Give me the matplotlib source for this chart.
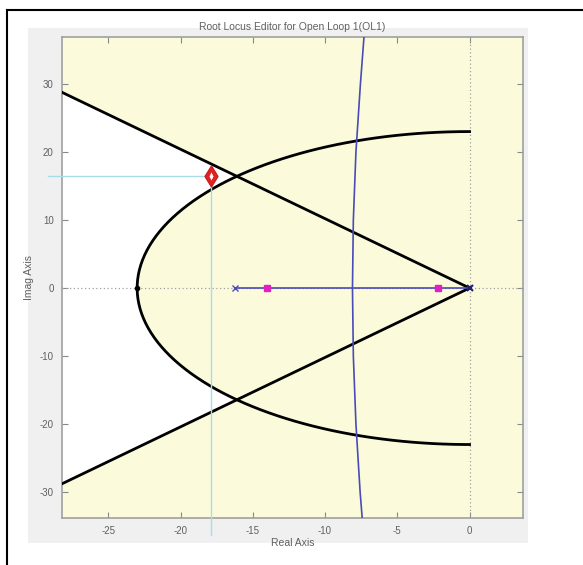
import numpy as np
import matplotlib.pyplot as plt
from matplotlib.patches import Rectangle, Polygon
from matplotlib.lines import Line2D
from matplotlib.path import Path

plt.rcParams["font.family"] = ["Liberation Sans", "DejaVu Sans"]
plt.rcParams["axes.unicode_minus"] = False

# design requirements
zeta = 0.70          # damping ratio bound
wn = 23.0            # natural frequency bound

# open-loop poles and closed-loop poles (real axis)
ol_poles = [-16.2, 0.0]
cl_poles = [-14.0, -2.2]

# complex branch of the locus
branch_x = [-7.30, -7.55, -7.86, -8.04, -8.10, -8.04, -7.86, -7.57, -7.42]
branch_y = [37.0, 30.0, 20.0, 10.0, 0.0, -10.0, -20.0, -30.0, -34.0]

# dragged point on the locus
pick_x, pick_y = -17.9, 16.5

xticks = [-25, -20, -15, -10, -5, 0]
yticks = [-30, -20, -10, 0, 10, 20, 30]
xlim = (-28.2, 3.7)
ylim = (-33.8, 36.9)

yellow = "#fbfbdc"
gray_txt = "#606060"
locus_blue = "#4a4ab8"

fig = plt.figure(figsize=(5.83, 5.65), dpi=100)
fig.patch.set_facecolor("white")

# grey panel behind the axes
fig.patches.append(Rectangle((28 / 583, 22 / 565), 500 / 583, 515 / 565,
                             transform=fig.transFigure, facecolor="#f0f0f0",
                             edgecolor="none", zorder=-5))
# outer frame (top and left edges)
fig.add_artist(Line2D([7 / 583, 1.0], [1 - 10 / 565, 1 - 10 / 565],
                      transform=fig.transFigure, color="black", lw=1.5))
fig.add_artist(Line2D([7 / 583, 7 / 583], [0.0, 1 - 10 / 565],
                      transform=fig.transFigure, color="black", lw=1.5))

ax = fig.add_axes([62 / 583, 47 / 565, 461 / 583, 481 / 565])
ax.set_facecolor(yellow)
ax.set_xlim(*xlim)
ax.set_ylim(*ylim)

# feasible region: inside the damping wedge and outside the wn circle
slope = np.sqrt(1 - zeta ** 2) / zeta
th0 = np.pi - np.arctan(slope)
xl = -40.0
arc = np.linspace(th0, 2 * np.pi - th0, 100)
verts = [(xl, -xl * slope)] + [(wn * np.cos(t), wn * np.sin(t)) for t in arc] \
    + [(xl, xl * slope)]
ax.add_patch(Polygon(verts, closed=True, facecolor="white", edgecolor="none", zorder=1))

# zero lines
ax.axhline(0, color="#a0a0a0", ls=(0, (1, 2)), lw=0.9, zorder=2)
ax.axvline(0, color="#a0a0a0", ls=(0, (1, 2)), lw=0.9, zorder=2)

# damping ratio lines and natural frequency arc
ax.plot([xl, 0], [-xl * slope, 0], color="black", lw=2, zorder=3)
ax.plot([xl, 0], [xl * slope, 0], color="black", lw=2, zorder=3)
half = np.linspace(np.pi / 2, 3 * np.pi / 2, 200)
ax.plot(wn * np.cos(half), wn * np.sin(half), color="black", lw=2, zorder=3)
ax.plot([-wn], [0], "o", color="black", ms=3, zorder=4)

# root locus
ax.plot(ol_poles, [0, 0], color=locus_blue, lw=1.2, zorder=4)
ax.plot(branch_x, branch_y, color=locus_blue, lw=1.2, zorder=4)
ax.plot(ol_poles[0], 0, "x", color=locus_blue, ms=4, mew=1, zorder=5)
ax.plot(ol_poles[1], 0, "x", color="#202070", ms=5, mew=1.5, zorder=5)
ax.plot(cl_poles, [0, 0], "s", color="#e020c0", ms=5, zorder=5)

# crosshair to the picked point
ax.plot([xlim[0] - 1.0, pick_x], [pick_y, pick_y], color="#a8dce8", lw=1,
        clip_on=False, zorder=3)
ax.plot([pick_x, pick_x], [pick_y, ylim[0] - 2.5], color="#a8dce8", lw=1,
        clip_on=False, zorder=3)
diamond = Path([(0, 1), (0.62, 0), (0, -1), (-0.62, 0), (0, 1)],
               [Path.MOVETO, Path.LINETO, Path.LINETO, Path.LINETO, Path.CLOSEPOLY])
ax.plot(pick_x, pick_y, marker=diamond, mfc="#e02424", mec="#d01c1c",
        mew=1, ms=15, ls="none", zorder=6)
ax.plot(pick_x, pick_y, marker="d", mfc="white", mec="none", ms=4,
        ls="none", zorder=7)

ax.set_xticks(xticks)
ax.set_yticks(yticks)
ax.tick_params(direction="in", length=4, width=0.8, color="#888888",
               labelsize=7, labelcolor=gray_txt, top=True, right=True, pad=6)
for s in ax.spines.values():
    s.set_color("#a0a0a0")
    s.set_linewidth(1.2)

ax.set_xlabel("Real Axis", fontsize=7.5, color=gray_txt, labelpad=1)
ax.set_ylabel("Imag Axis", fontsize=7.5, color=gray_txt, labelpad=4)
ax.set_title("Root Locus Editor for Open Loop 1(OL1)", fontsize=7.5,
             color=gray_txt, pad=5)

fig.savefig("out.png", dpi=100)
